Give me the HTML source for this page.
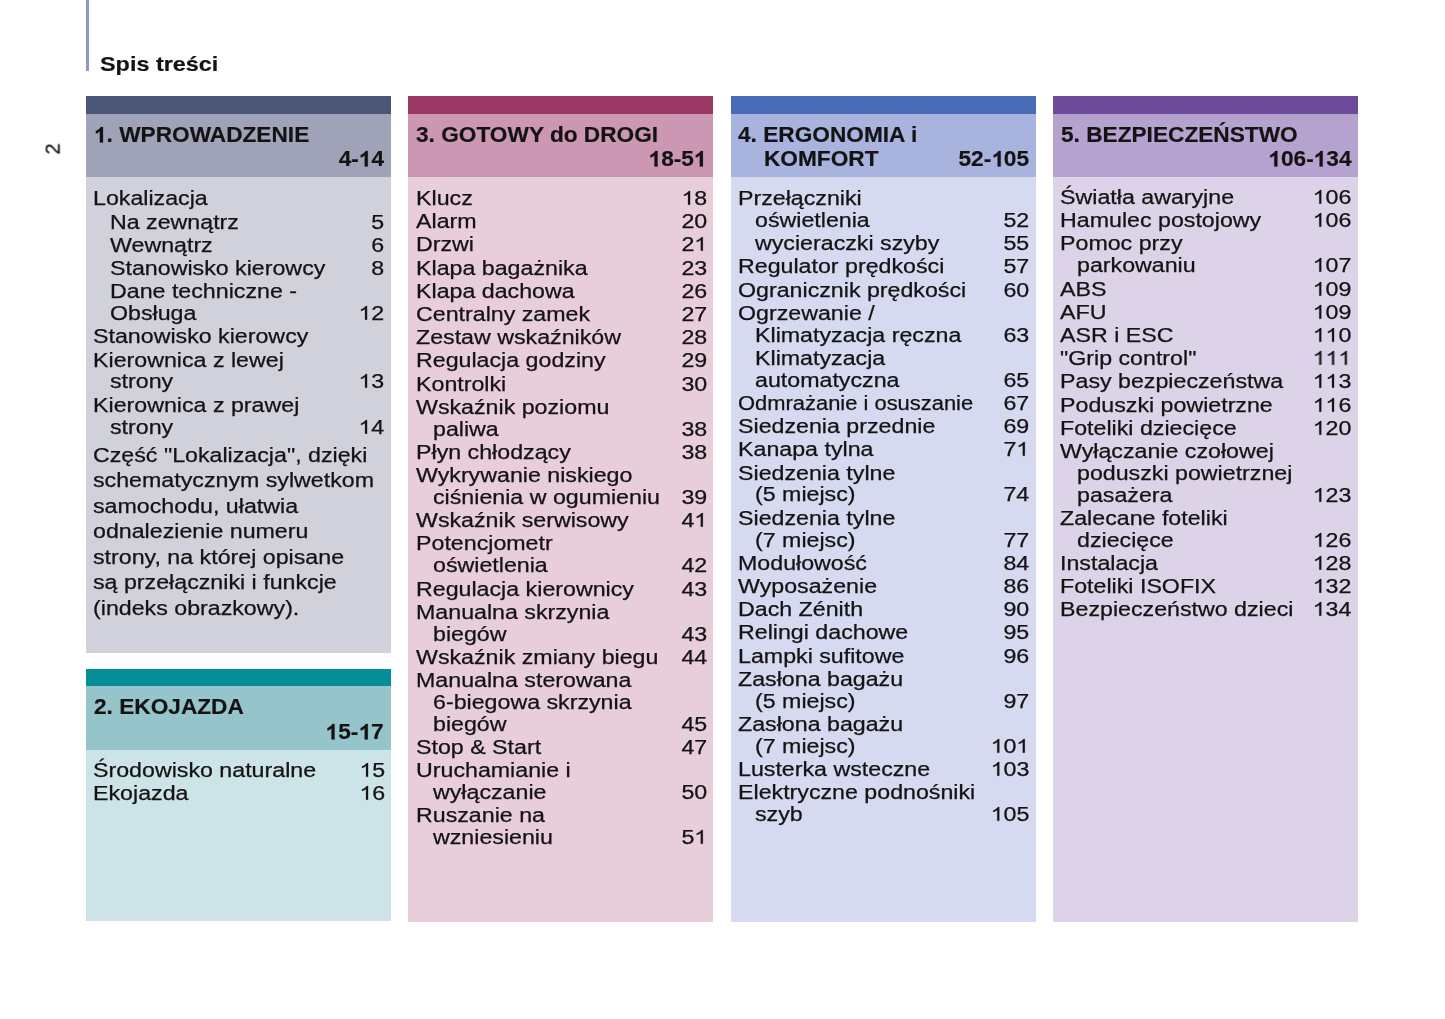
<!DOCTYPE html>
<html><head><meta charset="utf-8"><style>
html,body{margin:0;padding:0;background:#fff;width:1445px;height:1019px;overflow:hidden}
.b{position:absolute}
.t{position:absolute;white-space:nowrap;line-height:1;font-family:"Liberation Sans",sans-serif;color:#141213;transform-origin:left center;will-change:transform;-webkit-text-stroke:0.25px #141213}
.t.r{transform-origin:right center}
.o1{width:0.556em;height:0.688em;vertical-align:baseline;fill:currentColor;stroke:currentColor;stroke-width:20;overflow:visible}
</style></head><body>
<div class="b" style="left:86px;top:96px;width:305.1px;height:556.80px;background:#d1d1dc"></div>
<div class="b" style="left:86px;top:96px;width:305.1px;height:80.50px;background:#a0a3b7"></div>
<div class="b" style="left:86px;top:96px;width:305.1px;height:17.50px;background:#4b5677"></div>
<div class="b" style="left:86px;top:669.1px;width:305.1px;height:252.40px;background:#cce4e7"></div>
<div class="b" style="left:86px;top:669.1px;width:305.1px;height:80.90px;background:#96c4cb"></div>
<div class="b" style="left:86px;top:669.1px;width:305.1px;height:16.90px;background:#068e97"></div>
<div class="b" style="left:408.3px;top:96px;width:305.2px;height:825.50px;background:#e8cdda"></div>
<div class="b" style="left:408.3px;top:96px;width:305.2px;height:80.50px;background:#cc97b3"></div>
<div class="b" style="left:408.3px;top:96px;width:305.2px;height:17.50px;background:#9a3864"></div>
<div class="b" style="left:731px;top:96px;width:304.9px;height:825.50px;background:#d5daf0"></div>
<div class="b" style="left:731px;top:96px;width:304.9px;height:80.50px;background:#a8b4de"></div>
<div class="b" style="left:731px;top:96px;width:304.9px;height:17.50px;background:#4a6bb5"></div>
<div class="b" style="left:1053.2px;top:96px;width:305.0px;height:825.50px;background:#dcd3e8"></div>
<div class="b" style="left:1053.2px;top:96px;width:305.0px;height:80.50px;background:#b6a2cf"></div>
<div class="b" style="left:1053.2px;top:96px;width:305.0px;height:17.50px;background:#6d4b9a"></div>
<div class="t" style="left:92.90px;top:188.47px;font-size:20.0px;transform:scaleX(1.16)">Lokalizacja</div>
<div class="t" style="left:109.80px;top:211.67px;font-size:20.0px;transform:scaleX(1.16)">Na zewnątrz</div>
<div class="t r" style="right:1060.50px;top:211.67px;font-size:20.0px;transform:scaleX(1.16)">5</div>
<div class="t" style="left:109.80px;top:234.87px;font-size:20.0px;transform:scaleX(1.16)">Wewnątrz</div>
<div class="t r" style="right:1060.50px;top:234.87px;font-size:20.0px;transform:scaleX(1.16)">6</div>
<div class="t" style="left:109.80px;top:258.07px;font-size:20.0px;transform:scaleX(1.16)">Stanowisko kierowcy</div>
<div class="t r" style="right:1060.50px;top:258.07px;font-size:20.0px;transform:scaleX(1.16)">8</div>
<div class="t" style="left:109.80px;top:281.27px;font-size:20.0px;transform:scaleX(1.16)">Dane techniczne -</div>
<div class="t" style="left:109.80px;top:303.17px;font-size:20.0px;transform:scaleX(1.16)">Obsługa</div>
<div class="t r" style="right:1060.50px;top:303.17px;font-size:20.0px;transform:scaleX(1.16)"><svg class="o1" viewBox="0 0 1139 1409"><path d="M763 1409H583V307L518 366L412 426L306 486L221 515V348L374 279L488 181L602 84L650 0H763Z"/></svg>2</div>
<div class="t" style="left:92.90px;top:326.37px;font-size:20.0px;transform:scaleX(1.16)">Stanowisko kierowcy</div>
<div class="t" style="left:92.90px;top:349.57px;font-size:20.0px;transform:scaleX(1.16)">Kierownica z lewej</div>
<div class="t" style="left:109.80px;top:371.47px;font-size:20.0px;transform:scaleX(1.16)">strony</div>
<div class="t r" style="right:1060.50px;top:371.47px;font-size:20.0px;transform:scaleX(1.16)"><svg class="o1" viewBox="0 0 1139 1409"><path d="M763 1409H583V307L518 366L412 426L306 486L221 515V348L374 279L488 181L602 84L650 0H763Z"/></svg>3</div>
<div class="t" style="left:92.90px;top:394.67px;font-size:20.0px;transform:scaleX(1.16)">Kierownica z prawej</div>
<div class="t" style="left:109.80px;top:416.57px;font-size:20.0px;transform:scaleX(1.16)">strony</div>
<div class="t r" style="right:1060.50px;top:416.57px;font-size:20.0px;transform:scaleX(1.16)"><svg class="o1" viewBox="0 0 1139 1409"><path d="M763 1409H583V307L518 366L412 426L306 486L221 515V348L374 279L488 181L602 84L650 0H763Z"/></svg>4</div>
<div class="t" style="left:92.90px;top:444.57px;font-size:20.0px;transform:scaleX(1.16)">Część "Lokalizacja", dzięki</div>
<div class="t" style="left:92.90px;top:470.07px;font-size:20.0px;transform:scaleX(1.16)">schematycznym sylwetkom</div>
<div class="t" style="left:92.90px;top:495.57px;font-size:20.0px;transform:scaleX(1.16)">samochodu, ułatwia</div>
<div class="t" style="left:92.90px;top:521.07px;font-size:20.0px;transform:scaleX(1.16)">odnalezienie numeru</div>
<div class="t" style="left:92.90px;top:546.57px;font-size:20.0px;transform:scaleX(1.16)">strony, na której opisane</div>
<div class="t" style="left:92.90px;top:572.07px;font-size:20.0px;transform:scaleX(1.16)">są przełączniki i funkcje</div>
<div class="t" style="left:92.90px;top:597.57px;font-size:20.0px;transform:scaleX(1.16)">(indeks obrazkowy).</div>
<div class="t" style="left:92.90px;top:760.07px;font-size:20.0px;transform:scaleX(1.16)">Środowisko naturalne</div>
<div class="t r" style="right:1060.00px;top:760.07px;font-size:20.0px;transform:scaleX(1.16)"><svg class="o1" viewBox="0 0 1139 1409"><path d="M763 1409H583V307L518 366L412 426L306 486L221 515V348L374 279L488 181L602 84L650 0H763Z"/></svg>5</div>
<div class="t" style="left:92.90px;top:783.27px;font-size:20.0px;transform:scaleX(1.16)">Ekojazda</div>
<div class="t r" style="right:1060.00px;top:783.27px;font-size:20.0px;transform:scaleX(1.16)"><svg class="o1" viewBox="0 0 1139 1409"><path d="M763 1409H583V307L518 366L412 426L306 486L221 515V348L374 279L488 181L602 84L650 0H763Z"/></svg>6</div>
<div class="t" style="left:415.60px;top:188.07px;font-size:20.0px;transform:scaleX(1.16)">Klucz</div>
<div class="t r" style="right:738.00px;top:188.07px;font-size:20.0px;transform:scaleX(1.16)"><svg class="o1" viewBox="0 0 1139 1409"><path d="M763 1409H583V307L518 366L412 426L306 486L221 515V348L374 279L488 181L602 84L650 0H763Z"/></svg>8</div>
<div class="t" style="left:415.60px;top:211.27px;font-size:20.0px;transform:scaleX(1.16)">Alarm</div>
<div class="t r" style="right:738.00px;top:211.27px;font-size:20.0px;transform:scaleX(1.16)">20</div>
<div class="t" style="left:415.60px;top:234.47px;font-size:20.0px;transform:scaleX(1.16)">Drzwi</div>
<div class="t r" style="right:738.00px;top:234.47px;font-size:20.0px;transform:scaleX(1.16)">2<svg class="o1" viewBox="0 0 1139 1409"><path d="M763 1409H583V307L518 366L412 426L306 486L221 515V348L374 279L488 181L602 84L650 0H763Z"/></svg></div>
<div class="t" style="left:415.60px;top:257.67px;font-size:20.0px;transform:scaleX(1.16)">Klapa bagażnika</div>
<div class="t r" style="right:738.00px;top:257.67px;font-size:20.0px;transform:scaleX(1.16)">23</div>
<div class="t" style="left:415.60px;top:280.87px;font-size:20.0px;transform:scaleX(1.16)">Klapa dachowa</div>
<div class="t r" style="right:738.00px;top:280.87px;font-size:20.0px;transform:scaleX(1.16)">26</div>
<div class="t" style="left:415.60px;top:304.07px;font-size:20.0px;transform:scaleX(1.16)">Centralny zamek</div>
<div class="t r" style="right:738.00px;top:304.07px;font-size:20.0px;transform:scaleX(1.16)">27</div>
<div class="t" style="left:415.60px;top:327.27px;font-size:20.0px;transform:scaleX(1.16)">Zestaw wskaźników</div>
<div class="t r" style="right:738.00px;top:327.27px;font-size:20.0px;transform:scaleX(1.16)">28</div>
<div class="t" style="left:415.60px;top:350.47px;font-size:20.0px;transform:scaleX(1.16)">Regulacja godziny</div>
<div class="t r" style="right:738.00px;top:350.47px;font-size:20.0px;transform:scaleX(1.16)">29</div>
<div class="t" style="left:415.60px;top:373.67px;font-size:20.0px;transform:scaleX(1.16)">Kontrolki</div>
<div class="t r" style="right:738.00px;top:373.67px;font-size:20.0px;transform:scaleX(1.16)">30</div>
<div class="t" style="left:415.60px;top:396.87px;font-size:20.0px;transform:scaleX(1.16)">Wskaźnik poziomu</div>
<div class="t" style="left:432.60px;top:418.77px;font-size:20.0px;transform:scaleX(1.16)">paliwa</div>
<div class="t r" style="right:738.00px;top:418.77px;font-size:20.0px;transform:scaleX(1.16)">38</div>
<div class="t" style="left:415.60px;top:441.97px;font-size:20.0px;transform:scaleX(1.16)">Płyn chłodzący</div>
<div class="t r" style="right:738.00px;top:441.97px;font-size:20.0px;transform:scaleX(1.16)">38</div>
<div class="t" style="left:415.60px;top:465.17px;font-size:20.0px;transform:scaleX(1.16)">Wykrywanie niskiego</div>
<div class="t" style="left:432.60px;top:487.07px;font-size:20.0px;transform:scaleX(1.16)">ciśnienia w ogumieniu</div>
<div class="t r" style="right:738.00px;top:487.07px;font-size:20.0px;transform:scaleX(1.16)">39</div>
<div class="t" style="left:415.60px;top:510.27px;font-size:20.0px;transform:scaleX(1.16)">Wskaźnik serwisowy</div>
<div class="t r" style="right:738.00px;top:510.27px;font-size:20.0px;transform:scaleX(1.16)">4<svg class="o1" viewBox="0 0 1139 1409"><path d="M763 1409H583V307L518 366L412 426L306 486L221 515V348L374 279L488 181L602 84L650 0H763Z"/></svg></div>
<div class="t" style="left:415.60px;top:533.47px;font-size:20.0px;transform:scaleX(1.16)">Potencjometr</div>
<div class="t" style="left:432.60px;top:555.37px;font-size:20.0px;transform:scaleX(1.16)">oświetlenia</div>
<div class="t r" style="right:738.00px;top:555.37px;font-size:20.0px;transform:scaleX(1.16)">42</div>
<div class="t" style="left:415.60px;top:578.57px;font-size:20.0px;transform:scaleX(1.16)">Regulacja kierownicy</div>
<div class="t r" style="right:738.00px;top:578.57px;font-size:20.0px;transform:scaleX(1.16)">43</div>
<div class="t" style="left:415.60px;top:601.77px;font-size:20.0px;transform:scaleX(1.16)">Manualna skrzynia</div>
<div class="t" style="left:432.60px;top:623.67px;font-size:20.0px;transform:scaleX(1.16)">biegów</div>
<div class="t r" style="right:738.00px;top:623.67px;font-size:20.0px;transform:scaleX(1.16)">43</div>
<div class="t" style="left:415.60px;top:646.87px;font-size:20.0px;transform:scaleX(1.16)">Wskaźnik zmiany biegu</div>
<div class="t r" style="right:738.00px;top:646.87px;font-size:20.0px;transform:scaleX(1.16)">44</div>
<div class="t" style="left:415.60px;top:670.07px;font-size:20.0px;transform:scaleX(1.16)">Manualna sterowana</div>
<div class="t" style="left:432.60px;top:691.97px;font-size:20.0px;transform:scaleX(1.16)">6-biegowa skrzynia</div>
<div class="t" style="left:432.60px;top:713.87px;font-size:20.0px;transform:scaleX(1.16)">biegów</div>
<div class="t r" style="right:738.00px;top:713.87px;font-size:20.0px;transform:scaleX(1.16)">45</div>
<div class="t" style="left:415.60px;top:737.07px;font-size:20.0px;transform:scaleX(1.16)">Stop &amp; Start</div>
<div class="t r" style="right:738.00px;top:737.07px;font-size:20.0px;transform:scaleX(1.16)">47</div>
<div class="t" style="left:415.60px;top:760.27px;font-size:20.0px;transform:scaleX(1.16)">Uruchamianie i</div>
<div class="t" style="left:432.60px;top:782.17px;font-size:20.0px;transform:scaleX(1.16)">wyłączanie</div>
<div class="t r" style="right:738.00px;top:782.17px;font-size:20.0px;transform:scaleX(1.16)">50</div>
<div class="t" style="left:415.60px;top:805.37px;font-size:20.0px;transform:scaleX(1.16)">Ruszanie na</div>
<div class="t" style="left:432.60px;top:827.27px;font-size:20.0px;transform:scaleX(1.16)">wzniesieniu</div>
<div class="t r" style="right:738.00px;top:827.27px;font-size:20.0px;transform:scaleX(1.16)">5<svg class="o1" viewBox="0 0 1139 1409"><path d="M763 1409H583V307L518 366L412 426L306 486L221 515V348L374 279L488 181L602 84L650 0H763Z"/></svg></div>
<div class="t" style="left:737.70px;top:188.07px;font-size:20.0px;transform:scaleX(1.16)">Przełączniki</div>
<div class="t" style="left:755.30px;top:209.97px;font-size:20.0px;transform:scaleX(1.16)">oświetlenia</div>
<div class="t r" style="right:415.70px;top:209.97px;font-size:20.0px;transform:scaleX(1.16)">52</div>
<div class="t" style="left:755.30px;top:233.17px;font-size:20.0px;transform:scaleX(1.16)">wycieraczki szyby</div>
<div class="t r" style="right:415.70px;top:233.17px;font-size:20.0px;transform:scaleX(1.16)">55</div>
<div class="t" style="left:737.70px;top:256.37px;font-size:20.0px;transform:scaleX(1.16)">Regulator prędkości</div>
<div class="t r" style="right:415.70px;top:256.37px;font-size:20.0px;transform:scaleX(1.16)">57</div>
<div class="t" style="left:737.70px;top:279.57px;font-size:20.0px;transform:scaleX(1.16)">Ogranicznik prędkości</div>
<div class="t r" style="right:415.70px;top:279.57px;font-size:20.0px;transform:scaleX(1.16)">60</div>
<div class="t" style="left:737.70px;top:302.77px;font-size:20.0px;transform:scaleX(1.16)">Ogrzewanie /</div>
<div class="t" style="left:755.30px;top:324.67px;font-size:20.0px;transform:scaleX(1.16)">Klimatyzacja ręczna</div>
<div class="t r" style="right:415.70px;top:324.67px;font-size:20.0px;transform:scaleX(1.16)">63</div>
<div class="t" style="left:755.30px;top:347.87px;font-size:20.0px;transform:scaleX(1.16)">Klimatyzacja</div>
<div class="t" style="left:755.30px;top:369.77px;font-size:20.0px;transform:scaleX(1.16)">automatyczna</div>
<div class="t r" style="right:415.70px;top:369.77px;font-size:20.0px;transform:scaleX(1.16)">65</div>
<div class="t" style="left:737.70px;top:392.97px;font-size:20.0px;transform:scaleX(1.096)">Odmrażanie i osuszanie</div>
<div class="t r" style="right:415.70px;top:392.97px;font-size:20.0px;transform:scaleX(1.16)">67</div>
<div class="t" style="left:737.70px;top:416.17px;font-size:20.0px;transform:scaleX(1.16)">Siedzenia przednie</div>
<div class="t r" style="right:415.70px;top:416.17px;font-size:20.0px;transform:scaleX(1.16)">69</div>
<div class="t" style="left:737.70px;top:439.37px;font-size:20.0px;transform:scaleX(1.16)">Kanapa tylna</div>
<div class="t r" style="right:415.70px;top:439.37px;font-size:20.0px;transform:scaleX(1.16)">7<svg class="o1" viewBox="0 0 1139 1409"><path d="M763 1409H583V307L518 366L412 426L306 486L221 515V348L374 279L488 181L602 84L650 0H763Z"/></svg></div>
<div class="t" style="left:737.70px;top:462.57px;font-size:20.0px;transform:scaleX(1.16)">Siedzenia tylne</div>
<div class="t" style="left:755.30px;top:484.47px;font-size:20.0px;transform:scaleX(1.16)">(5 miejsc)</div>
<div class="t r" style="right:415.70px;top:484.47px;font-size:20.0px;transform:scaleX(1.16)">74</div>
<div class="t" style="left:737.70px;top:507.67px;font-size:20.0px;transform:scaleX(1.16)">Siedzenia tylne</div>
<div class="t" style="left:755.30px;top:529.57px;font-size:20.0px;transform:scaleX(1.16)">(7 miejsc)</div>
<div class="t r" style="right:415.70px;top:529.57px;font-size:20.0px;transform:scaleX(1.16)">77</div>
<div class="t" style="left:737.70px;top:552.77px;font-size:20.0px;transform:scaleX(1.16)">Modułowość</div>
<div class="t r" style="right:415.70px;top:552.77px;font-size:20.0px;transform:scaleX(1.16)">84</div>
<div class="t" style="left:737.70px;top:575.97px;font-size:20.0px;transform:scaleX(1.16)">Wyposażenie</div>
<div class="t r" style="right:415.70px;top:575.97px;font-size:20.0px;transform:scaleX(1.16)">86</div>
<div class="t" style="left:737.70px;top:599.17px;font-size:20.0px;transform:scaleX(1.16)">Dach Zénith</div>
<div class="t r" style="right:415.70px;top:599.17px;font-size:20.0px;transform:scaleX(1.16)">90</div>
<div class="t" style="left:737.70px;top:622.37px;font-size:20.0px;transform:scaleX(1.16)">Relingi dachowe</div>
<div class="t r" style="right:415.70px;top:622.37px;font-size:20.0px;transform:scaleX(1.16)">95</div>
<div class="t" style="left:737.70px;top:645.57px;font-size:20.0px;transform:scaleX(1.16)">Lampki sufitowe</div>
<div class="t r" style="right:415.70px;top:645.57px;font-size:20.0px;transform:scaleX(1.16)">96</div>
<div class="t" style="left:737.70px;top:668.77px;font-size:20.0px;transform:scaleX(1.16)">Zasłona bagażu</div>
<div class="t" style="left:755.30px;top:690.67px;font-size:20.0px;transform:scaleX(1.16)">(5 miejsc)</div>
<div class="t r" style="right:415.70px;top:690.67px;font-size:20.0px;transform:scaleX(1.16)">97</div>
<div class="t" style="left:737.70px;top:713.87px;font-size:20.0px;transform:scaleX(1.16)">Zasłona bagażu</div>
<div class="t" style="left:755.30px;top:735.77px;font-size:20.0px;transform:scaleX(1.16)">(7 miejsc)</div>
<div class="t r" style="right:415.70px;top:735.77px;font-size:20.0px;transform:scaleX(1.16)"><svg class="o1" viewBox="0 0 1139 1409"><path d="M763 1409H583V307L518 366L412 426L306 486L221 515V348L374 279L488 181L602 84L650 0H763Z"/></svg>0<svg class="o1" viewBox="0 0 1139 1409"><path d="M763 1409H583V307L518 366L412 426L306 486L221 515V348L374 279L488 181L602 84L650 0H763Z"/></svg></div>
<div class="t" style="left:737.70px;top:758.97px;font-size:20.0px;transform:scaleX(1.16)">Lusterka wsteczne</div>
<div class="t r" style="right:415.70px;top:758.97px;font-size:20.0px;transform:scaleX(1.16)"><svg class="o1" viewBox="0 0 1139 1409"><path d="M763 1409H583V307L518 366L412 426L306 486L221 515V348L374 279L488 181L602 84L650 0H763Z"/></svg>03</div>
<div class="t" style="left:737.70px;top:782.17px;font-size:20.0px;transform:scaleX(1.16)">Elektryczne podnośniki</div>
<div class="t" style="left:755.30px;top:804.07px;font-size:20.0px;transform:scaleX(1.16)">szyb</div>
<div class="t r" style="right:415.70px;top:804.07px;font-size:20.0px;transform:scaleX(1.16)"><svg class="o1" viewBox="0 0 1139 1409"><path d="M763 1409H583V307L518 366L412 426L306 486L221 515V348L374 279L488 181L602 84L650 0H763Z"/></svg>05</div>
<div class="t" style="left:1060.45px;top:187.07px;font-size:20.0px;transform:scaleX(1.16)">Światła awaryjne</div>
<div class="t r" style="right:93.80px;top:187.07px;font-size:20.0px;transform:scaleX(1.16)"><svg class="o1" viewBox="0 0 1139 1409"><path d="M763 1409H583V307L518 366L412 426L306 486L221 515V348L374 279L488 181L602 84L650 0H763Z"/></svg>06</div>
<div class="t" style="left:1060.45px;top:210.27px;font-size:20.0px;transform:scaleX(1.16)">Hamulec postojowy</div>
<div class="t r" style="right:93.80px;top:210.27px;font-size:20.0px;transform:scaleX(1.16)"><svg class="o1" viewBox="0 0 1139 1409"><path d="M763 1409H583V307L518 366L412 426L306 486L221 515V348L374 279L488 181L602 84L650 0H763Z"/></svg>06</div>
<div class="t" style="left:1060.45px;top:233.47px;font-size:20.0px;transform:scaleX(1.16)">Pomoc przy</div>
<div class="t" style="left:1077.00px;top:255.37px;font-size:20.0px;transform:scaleX(1.16)">parkowaniu</div>
<div class="t r" style="right:93.80px;top:255.37px;font-size:20.0px;transform:scaleX(1.16)"><svg class="o1" viewBox="0 0 1139 1409"><path d="M763 1409H583V307L518 366L412 426L306 486L221 515V348L374 279L488 181L602 84L650 0H763Z"/></svg>07</div>
<div class="t" style="left:1060.45px;top:278.57px;font-size:20.0px;transform:scaleX(1.16)">ABS</div>
<div class="t r" style="right:93.80px;top:278.57px;font-size:20.0px;transform:scaleX(1.16)"><svg class="o1" viewBox="0 0 1139 1409"><path d="M763 1409H583V307L518 366L412 426L306 486L221 515V348L374 279L488 181L602 84L650 0H763Z"/></svg>09</div>
<div class="t" style="left:1060.45px;top:301.77px;font-size:20.0px;transform:scaleX(1.16)">AFU</div>
<div class="t r" style="right:93.80px;top:301.77px;font-size:20.0px;transform:scaleX(1.16)"><svg class="o1" viewBox="0 0 1139 1409"><path d="M763 1409H583V307L518 366L412 426L306 486L221 515V348L374 279L488 181L602 84L650 0H763Z"/></svg>09</div>
<div class="t" style="left:1060.45px;top:324.97px;font-size:20.0px;transform:scaleX(1.16)">ASR i ESC</div>
<div class="t r" style="right:93.80px;top:324.97px;font-size:20.0px;transform:scaleX(1.16)"><svg class="o1" viewBox="0 0 1139 1409"><path d="M763 1409H583V307L518 366L412 426L306 486L221 515V348L374 279L488 181L602 84L650 0H763Z"/></svg><svg class="o1" viewBox="0 0 1139 1409"><path d="M763 1409H583V307L518 366L412 426L306 486L221 515V348L374 279L488 181L602 84L650 0H763Z"/></svg>0</div>
<div class="t" style="left:1060.45px;top:348.17px;font-size:20.0px;transform:scaleX(1.16)">"Grip control"</div>
<div class="t r" style="right:93.80px;top:348.17px;font-size:20.0px;transform:scaleX(1.16)"><svg class="o1" viewBox="0 0 1139 1409"><path d="M763 1409H583V307L518 366L412 426L306 486L221 515V348L374 279L488 181L602 84L650 0H763Z"/></svg><svg class="o1" viewBox="0 0 1139 1409"><path d="M763 1409H583V307L518 366L412 426L306 486L221 515V348L374 279L488 181L602 84L650 0H763Z"/></svg><svg class="o1" viewBox="0 0 1139 1409"><path d="M763 1409H583V307L518 366L412 426L306 486L221 515V348L374 279L488 181L602 84L650 0H763Z"/></svg></div>
<div class="t" style="left:1060.45px;top:371.37px;font-size:20.0px;transform:scaleX(1.16)">Pasy bezpieczeństwa</div>
<div class="t r" style="right:93.80px;top:371.37px;font-size:20.0px;transform:scaleX(1.16)"><svg class="o1" viewBox="0 0 1139 1409"><path d="M763 1409H583V307L518 366L412 426L306 486L221 515V348L374 279L488 181L602 84L650 0H763Z"/></svg><svg class="o1" viewBox="0 0 1139 1409"><path d="M763 1409H583V307L518 366L412 426L306 486L221 515V348L374 279L488 181L602 84L650 0H763Z"/></svg>3</div>
<div class="t" style="left:1060.45px;top:394.57px;font-size:20.0px;transform:scaleX(1.16)">Poduszki powietrzne</div>
<div class="t r" style="right:93.80px;top:394.57px;font-size:20.0px;transform:scaleX(1.16)"><svg class="o1" viewBox="0 0 1139 1409"><path d="M763 1409H583V307L518 366L412 426L306 486L221 515V348L374 279L488 181L602 84L650 0H763Z"/></svg><svg class="o1" viewBox="0 0 1139 1409"><path d="M763 1409H583V307L518 366L412 426L306 486L221 515V348L374 279L488 181L602 84L650 0H763Z"/></svg>6</div>
<div class="t" style="left:1060.45px;top:417.77px;font-size:20.0px;transform:scaleX(1.16)">Foteliki dziecięce</div>
<div class="t r" style="right:93.80px;top:417.77px;font-size:20.0px;transform:scaleX(1.16)"><svg class="o1" viewBox="0 0 1139 1409"><path d="M763 1409H583V307L518 366L412 426L306 486L221 515V348L374 279L488 181L602 84L650 0H763Z"/></svg>20</div>
<div class="t" style="left:1060.45px;top:440.97px;font-size:20.0px;transform:scaleX(1.16)">Wyłączanie czołowej</div>
<div class="t" style="left:1077.00px;top:462.87px;font-size:20.0px;transform:scaleX(1.16)">poduszki powietrznej</div>
<div class="t" style="left:1077.00px;top:484.77px;font-size:20.0px;transform:scaleX(1.16)">pasażera</div>
<div class="t r" style="right:93.80px;top:484.77px;font-size:20.0px;transform:scaleX(1.16)"><svg class="o1" viewBox="0 0 1139 1409"><path d="M763 1409H583V307L518 366L412 426L306 486L221 515V348L374 279L488 181L602 84L650 0H763Z"/></svg>23</div>
<div class="t" style="left:1060.45px;top:507.97px;font-size:20.0px;transform:scaleX(1.16)">Zalecane foteliki</div>
<div class="t" style="left:1077.00px;top:529.87px;font-size:20.0px;transform:scaleX(1.16)">dziecięce</div>
<div class="t r" style="right:93.80px;top:529.87px;font-size:20.0px;transform:scaleX(1.16)"><svg class="o1" viewBox="0 0 1139 1409"><path d="M763 1409H583V307L518 366L412 426L306 486L221 515V348L374 279L488 181L602 84L650 0H763Z"/></svg>26</div>
<div class="t" style="left:1060.45px;top:553.07px;font-size:20.0px;transform:scaleX(1.16)">Instalacja</div>
<div class="t r" style="right:93.80px;top:553.07px;font-size:20.0px;transform:scaleX(1.16)"><svg class="o1" viewBox="0 0 1139 1409"><path d="M763 1409H583V307L518 366L412 426L306 486L221 515V348L374 279L488 181L602 84L650 0H763Z"/></svg>28</div>
<div class="t" style="left:1060.45px;top:576.27px;font-size:20.0px;transform:scaleX(1.16)">Foteliki ISOFIX</div>
<div class="t r" style="right:93.80px;top:576.27px;font-size:20.0px;transform:scaleX(1.16)"><svg class="o1" viewBox="0 0 1139 1409"><path d="M763 1409H583V307L518 366L412 426L306 486L221 515V348L374 279L488 181L602 84L650 0H763Z"/></svg>32</div>
<div class="t" style="left:1060.45px;top:599.47px;font-size:20.0px;transform:scaleX(1.16)">Bezpieczeństwo dzieci</div>
<div class="t r" style="right:93.80px;top:599.47px;font-size:20.0px;transform:scaleX(1.16)"><svg class="o1" viewBox="0 0 1139 1409"><path d="M763 1409H583V307L518 366L412 426L306 486L221 515V348L374 279L488 181L602 84L650 0H763Z"/></svg>34</div>
<div class="t" style="left:93.50px;top:123.55px;font-size:22.5px;font-weight:bold;-webkit-text-stroke:0.2px #1a1a1a;transform:scaleX(1.007)"><svg class="o1" viewBox="0 0 1139 1409"><path d="M812 1409H531V394L377 533L168 597V353L284 316L420 213L556 109L606 0H812Z"/></svg>. WPROWADZENIE</div>
<div class="t r" style="right:1060.50px;top:148.25px;font-size:22.5px;font-weight:bold;-webkit-text-stroke:0.2px #1a1a1a;transform:scaleX(1.007)">4-<svg class="o1" viewBox="0 0 1139 1409"><path d="M812 1409H531V394L377 533L168 597V353L284 316L420 213L556 109L606 0H812Z"/></svg>4</div>
<div class="t" style="left:415.50px;top:123.55px;font-size:22.5px;font-weight:bold;-webkit-text-stroke:0.2px #1a1a1a;transform:scaleX(1.007)">3. GOTOWY do DROGI</div>
<div class="t r" style="right:738.00px;top:148.25px;font-size:22.5px;font-weight:bold;-webkit-text-stroke:0.2px #1a1a1a;transform:scaleX(1.007)"><svg class="o1" viewBox="0 0 1139 1409"><path d="M812 1409H531V394L377 533L168 597V353L284 316L420 213L556 109L606 0H812Z"/></svg>8-5<svg class="o1" viewBox="0 0 1139 1409"><path d="M812 1409H531V394L377 533L168 597V353L284 316L420 213L556 109L606 0H812Z"/></svg></div>
<div class="t" style="left:738.00px;top:123.55px;font-size:22.5px;font-weight:bold;-webkit-text-stroke:0.2px #1a1a1a;transform:scaleX(1.007)">4. ERGONOMIA i</div>
<div class="t r" style="right:415.70px;top:148.25px;font-size:22.5px;font-weight:bold;-webkit-text-stroke:0.2px #1a1a1a;transform:scaleX(1.007)">52-<svg class="o1" viewBox="0 0 1139 1409"><path d="M812 1409H531V394L377 533L168 597V353L284 316L420 213L556 109L606 0H812Z"/></svg>05</div>
<div class="t" style="left:1060.50px;top:123.55px;font-size:22.5px;font-weight:bold;-webkit-text-stroke:0.2px #1a1a1a;transform:scaleX(1.007)">5. BEZPIECZEŃSTWO</div>
<div class="t r" style="right:93.20px;top:148.25px;font-size:22.5px;font-weight:bold;-webkit-text-stroke:0.2px #1a1a1a;transform:scaleX(1.007)"><svg class="o1" viewBox="0 0 1139 1409"><path d="M812 1409H531V394L377 533L168 597V353L284 316L420 213L556 109L606 0H812Z"/></svg>06-<svg class="o1" viewBox="0 0 1139 1409"><path d="M812 1409H531V394L377 533L168 597V353L284 316L420 213L556 109L606 0H812Z"/></svg>34</div>
<div class="t" style="left:764.00px;top:148.25px;font-size:22.5px;font-weight:bold;-webkit-text-stroke:0.2px #1a1a1a;transform:scaleX(1.007)">KOMFORT</div>
<div class="t" style="left:93.50px;top:696.25px;font-size:22.5px;font-weight:bold;-webkit-text-stroke:0.2px #1a1a1a;transform:scaleX(1.007)">2. EKOJAZDA</div>
<div class="t r" style="right:1061.30px;top:720.75px;font-size:22.5px;font-weight:bold;-webkit-text-stroke:0.2px #1a1a1a;transform:scaleX(1.007)"><svg class="o1" viewBox="0 0 1139 1409"><path d="M812 1409H531V394L377 533L168 597V353L284 316L420 213L556 109L606 0H812Z"/></svg>5-<svg class="o1" viewBox="0 0 1139 1409"><path d="M812 1409H531V394L377 533L168 597V353L284 316L420 213L556 109L606 0H812Z"/></svg>7</div>
<div class="b" style="left:86px;top:0;width:3px;height:70.5px;background:#8c9ac0"></div>
<div class="t" style="left:99.60px;top:53.69px;font-size:20.8px;font-weight:bold;-webkit-text-stroke:0.2px #1a1a1a;transform:scaleX(1.125)">Spis treści</div>
<div class="t" style="left:47px;top:139px;width:11.1px;height:20px;font-size:20px;line-height:20px;transform:rotate(-90deg);transform-origin:center">2</div>
</body></html>
